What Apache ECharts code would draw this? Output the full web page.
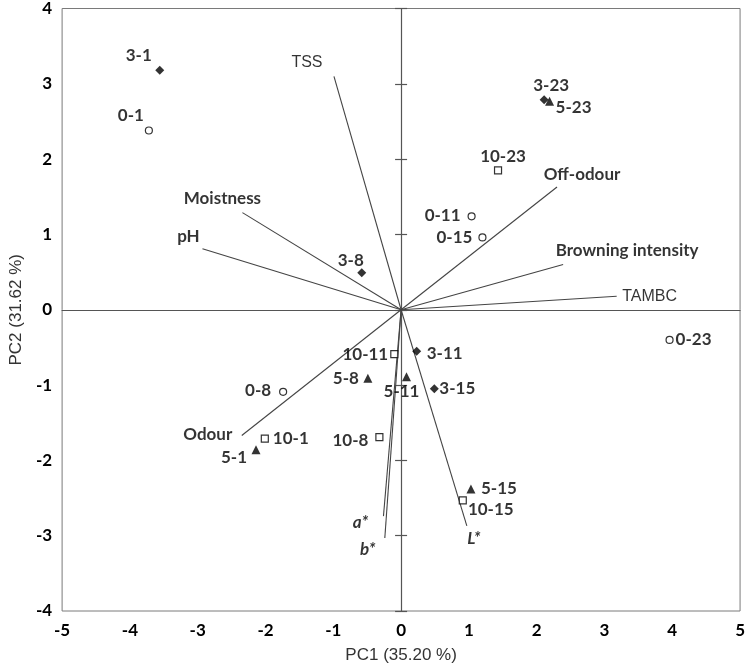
<!DOCTYPE html>
<html>
<head>
<meta charset="utf-8">
<script src="https://cdn.jsdelivr.net/npm/echarts@6/dist/echarts.min.js"></script>
<style>
html,body{margin:0;padding:0;background:#fff;}
#chart{width:748px;height:669px;}
</style>
</head>
<body>
<div id="chart"></div>
<script>
// ---- Data ----
const xTicks = [-5, -4, -3, -2, -1, 0, 1, 2, 3, 4, 5];
const yTicks = [-4, -3, -2, -1, 0, 1, 2, 3, 4];
const xTitle = 'PC1 (35.20 %)';
const yTitle = 'PC2 (31.62 %)';

// Samples: 0 (open circles)
const g0Names = ['0-1', '0-8', '0-11', '0-15', '0-23'];
const g0X = [-3.72, -1.74, 1.04, 1.20, 3.96];
const g0Y = [2.38, -1.09, 1.24, 0.96, -0.40];
// 3 (filled diamonds)
const g3Names = ['3-1', '3-8', '3-11', '3-15', '3-23'];
const g3X = [-3.56, -0.58, 0.23, 0.49, 2.11];
const g3Y = [3.18, 0.49, -0.55, -1.05, 2.79];
// 5 (filled triangles)
const g5Names = ['5-1', '5-8', '5-11', '5-15', '5-23'];
const g5X = [-2.14, -0.49, 0.08, 1.03, 2.19];
const g5Y = [-1.86, -0.91, -0.89, -2.38, 2.77];
// 10 (open squares)
const g10Names = ['10-1', '10-8', '10-11', '10-15', '10-23'];
const g10X = [-2.01, -0.32, -0.10, 0.91, 1.43];
const g10Y = [-1.71, -1.69, -0.59, -2.53, 1.85];

// Loadings (vectors from origin)
const loadNames = ['TSS', 'Moistness', 'pH', 'Off-odour', 'Browning intensity', 'TAMBC', 'Odour', 'a*', 'b*', 'L*'];
const loadX = [-0.99, -2.34, -2.93, 2.30, 2.39, 3.18, -2.35, -0.26, -0.24, 0.97];
const loadY = [3.10, 1.29, 0.81, 1.63, 0.60, 0.18, -1.67, -2.74, -3.03, -2.87];

// ---- Label placement (layout only) ----
const sampleLabelOffset = {
  '3-1': [-21, -15], '0-1': [-18, -15], '3-8': [-11, -12], '3-23': [7, -14],
  '5-23': [24, 6], '10-23': [5, -14], '0-11': [-29, -1], '0-15': [-28, 0],
  '0-23': [24, 0], '3-11': [28, 2], '5-11': [-5, 15], '3-15': [23, 0],
  '10-11': [-29, 0], '5-8': [-22, 0], '0-8': [-25, -1], '10-1': [26, 0],
  '5-1': [-22, 8], '10-8': [-29, 3], '5-15': [28, 0], '10-15': [28, 9]
};
const loadLabelOffset = {
  'TSS': [-27, -14], 'Moistness': [-20, -14], 'pH': [-14, -12],
  'Off-odour': [25, -12], 'Browning intensity': [64, -14], 'TAMBC': [33, 0],
  'Odour': [-34, -1], 'a*': [-23, 6], 'b*': [-17, 12], 'L*': [7, 13]
};
const arialLabels = { 'TSS': true, 'TAMBC': true };
const italicLabels = { 'a*': true, 'b*': true, 'L*': true };

const LABEL_FONT = 'Lato';
const labelBase = {
  show: true, position: 'inside', color: '#000', fontFamily: LABEL_FONT,
  fontSize: 17, fontWeight: 'bold', align: 'center', verticalAlign: 'middle',
  formatter: p => p.name
};

function sampleData(names, xs, ys) {
  return names.map((n, i) => ({
    name: n, value: [xs[i], ys[i]],
    label: Object.assign({}, labelBase, { offset: sampleLabelOffset[n] || [0, 0] })
  }));
}

function sampleSeries(names, xs, ys, symbol, size, filled) {
  return {
    type: 'scatter', symbol: symbol, symbolSize: size,
    data: sampleData(names, xs, ys),
    itemStyle: filled ? { color: '#000' } : { color: '#fff', borderColor: '#000', borderWidth: 1.2 },
    emphasis: { disabled: true }, z: 5
  };
}

const loadLinesData = loadNames.map((n, i) => ({ coords: [[0, 0], [loadX[i], loadY[i]]] }));
const loadEndData = loadNames.map((n, i) => {
  const lab = Object.assign({}, labelBase, { offset: loadLabelOffset[n] || [0, 0] });
  if (arialLabels[n]) { lab.fontFamily = 'Liberation Sans'; lab.fontSize = 16; lab.fontWeight = 'normal'; }
  if (italicLabels[n]) { lab.fontStyle = 'italic'; lab.fontWeight = 'bold'; }
  return { name: n, value: [loadX[i], loadY[i]], label: lab };
});

const AXIS_COLOR = '#555';

const option = {
  animation: false,
  backgroundColor: '#fff',
  grid: { left: 46, right: 6, top: 8, bottom: 55, show: true, borderColor: '#7a7a7a', borderWidth: 1, backgroundColor: 'transparent' },
  xAxis: [
    {
      type: 'value', min: xTicks[0], max: xTicks[xTicks.length - 1], interval: 1,
      position: 'bottom',
      axisLine: { show: false, onZero: false }, axisTick: { show: false }, splitLine: { show: false },
      axisLabel: { color: '#000', fontFamily: LABEL_FONT, fontSize: 17, fontWeight: 'bold', margin: 11 },
      name: xTitle, nameLocation: 'middle', nameGap: 36,
      nameTextStyle: { fontFamily: 'Liberation Sans', fontSize: 17, color: '#333' }
    },
    {
      type: 'value', min: xTicks[0], max: xTicks[xTicks.length - 1], interval: 1,
      position: 'bottom',
      axisLine: { show: true, onZero: true, onZeroAxisIndex: 0, lineStyle: { color: AXIS_COLOR, width: 1.2 } },
      axisTick: { show: false }, axisLabel: { show: false }, splitLine: { show: false }
    }
  ],
  yAxis: [
    {
      type: 'value', min: yTicks[0], max: yTicks[yTicks.length - 1], interval: 1,
      position: 'left',
      axisLine: { show: false, onZero: false }, axisTick: { show: false }, splitLine: { show: false },
      axisLabel: { color: '#000', fontFamily: LABEL_FONT, fontSize: 17, fontWeight: 'bold', margin: 10 },
      name: yTitle, nameLocation: 'middle', nameGap: 27, nameRotate: 90,
      nameTextStyle: { fontFamily: 'Liberation Sans', fontSize: 17, color: '#333' }
    },
    {
      type: 'value', min: yTicks[0], max: yTicks[yTicks.length - 1], interval: 1,
      position: 'left',
      axisLine: { show: true, onZero: true, onZeroAxisIndex: 0, lineStyle: { color: AXIS_COLOR, width: 1.2 } },
      axisTick: { show: true, inside: false, length: 6, lineStyle: { color: AXIS_COLOR, width: 1.2 } },
      axisLabel: { show: false }, splitLine: { show: false }
    },
    {
      type: 'value', min: yTicks[0], max: yTicks[yTicks.length - 1], interval: 1,
      position: 'left',
      axisLine: { show: false, onZero: true, onZeroAxisIndex: 0 },
      axisTick: { show: true, inside: true, length: 6, lineStyle: { color: AXIS_COLOR, width: 1.2 } },
      axisLabel: { show: false }, splitLine: { show: false }
    }
  ],
  series: [
    {
      type: 'lines', coordinateSystem: 'cartesian2d', xAxisIndex: 0, yAxisIndex: 0,
      data: loadLinesData, symbol: 'none',
      lineStyle: { color: '#444', width: 1.1, opacity: 1 }, z: 3, silent: true
    },
    {
      type: 'scatter', symbol: 'circle', symbolSize: 0, data: loadEndData, z: 4, silent: true
    },
    sampleSeries(g0Names, g0X, g0Y, 'circle', 7, false),
    sampleSeries(g3Names, g3X, g3Y, 'diamond', 9, true),
    sampleSeries(g5Names, g5X, g5Y, 'triangle', 9, true),
    sampleSeries(g10Names, g10X, g10Y, 'rect', 7, false)
  ]
};

const chart = echarts.init(document.getElementById('chart'), null, { renderer: 'canvas' });
chart.setOption(option);
</script>
</body>
</html>
